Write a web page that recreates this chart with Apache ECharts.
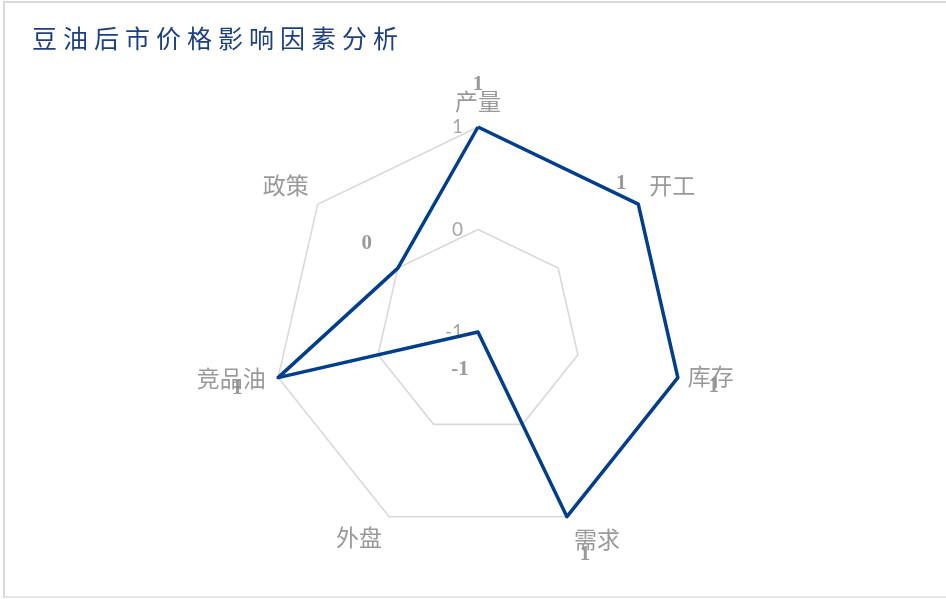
<!DOCTYPE html>
<html>
<head>
<meta charset="utf-8">
<script src="https://cdn.jsdelivr.net/npm/echarts@6/dist/echarts.min.js"></script>
<style>
html,body{margin:0;padding:0;background:#fff;}
#frame{position:absolute;left:3px;top:1px;width:943px;height:597px;border-top:2px solid #d9d9d9;border-left:2px solid #d9d9d9;border-bottom:2px solid #e6e6e6;box-sizing:border-box;}
#chart{position:absolute;left:0;top:0;width:946px;height:599px;}
</style>
</head>
<body>
<div id="frame"></div>
<div id="chart"></div>
<script>
// Data (clockwise order from top, as in the reference)
const titleText = '豆油后市价格影响因素分析';
const categories = ['产量', '开工', '库存', '需求', '外盘', '竞品油', '政策'];
const values = [1, 1, 1, 1, -1, 1, 0];
const tickLabels = ['-1', '0', '1'];

// label offsets (presentation only)
const valueLabelOffsets = [[0,-42],[-17,-21],[36,9],[18,38],[-18,38],[-41,11],[-31,-25]];
const nameLabelOffsets = [[0,-26],[34,-19],[33,-1],[30,23],[-30,21],[-47,1],[-32,-19]];

// ECharts radar runs counter-clockwise: keep first, reverse the rest
const order = [0].concat(categories.map((_, i) => i).slice(1).reverse());
const indicators = order.map(i => ({ name: categories[i], min: -1, max: 1 }));
const radarValues = order.map(i => values[i]);

const chart = echarts.init(document.getElementById('chart'));
const center = [478, 332];
const R = 205;

chart.setOption({
  animation: false,
  backgroundColor: 'transparent',
  title: {
    text: titleText.split('').map(c => '{c|' + c + '}').join(''),
    left: 24, top: 21,
    textStyle: {
      fontWeight: 'normal',
      rich: { c: { color: '#1c4080', fontSize: 25, fontWeight: 'normal', fontFamily: 'Noto Sans CJK SC', padding: [0, 3, 0, 3] } }
    }
  },
  radar: {
    center: center,
    radius: R,
    startAngle: 90,
    splitNumber: 2,
    shape: 'polygon',
    indicator: indicators,
    axisLine: { show: false },
    axisTick: { show: false },
    axisLabel: { show: false },
    splitArea: { show: false },
    splitLine: { lineStyle: { color: '#d9d9d9', width: 1.6 } },
    axisName: { show: false }
  },
  polar: { center: center, radius: R },
  angleAxis: {
    type: 'value', min: 0, max: categories.length, startAngle: 90, clockwise: true,
    show: false
  },
  radiusAxis: {
    type: 'value', min: -1, max: 1, interval: 1,
    axisLine: { show: false }, axisTick: { show: false }, splitLine: { show: false },
    axisLabel: {
      color: '#a6a6a6', fontSize: 19, fontFamily: 'Lato', margin: 15,
      formatter: v => tickLabels[Math.round(v) + 1]
    }
  },
  series: [
    {
      type: 'radar',
      symbol: 'none',
      lineStyle: { color: '#023e8a', width: 3.5 },
      data: [{ value: radarValues }]
    },
    {
      type: 'scatter',
      coordinateSystem: 'polar',
      symbolSize: 1,
      itemStyle: { color: 'rgba(0,0,0,0)' },
      silent: true,
      z: 3,
      data: categories.map((n, i) => ({
        value: [1, i],
        label: {
          show: true, position: 'inside', offset: nameLabelOffsets[i],
          formatter: n,
          color: '#7f7f7f', fontSize: 23, fontFamily: 'Noto Sans CJK SC'
        }
      }))
    },
    {
      type: 'scatter',
      coordinateSystem: 'polar',
      symbolSize: 1,
      itemStyle: { color: 'rgba(0,0,0,0)' },
      silent: true,
      z: 4,
      data: values.map((v, i) => ({
        value: [v, i],
        label: {
          show: true, position: 'inside', offset: valueLabelOffsets[i],
          formatter: String(v),
          color: '#7f7f7f', fontSize: 21, fontWeight: 'bold', fontFamily: 'Liberation Serif'
        }
      }))
    }
  ]
});
</script>
</body>
</html>
